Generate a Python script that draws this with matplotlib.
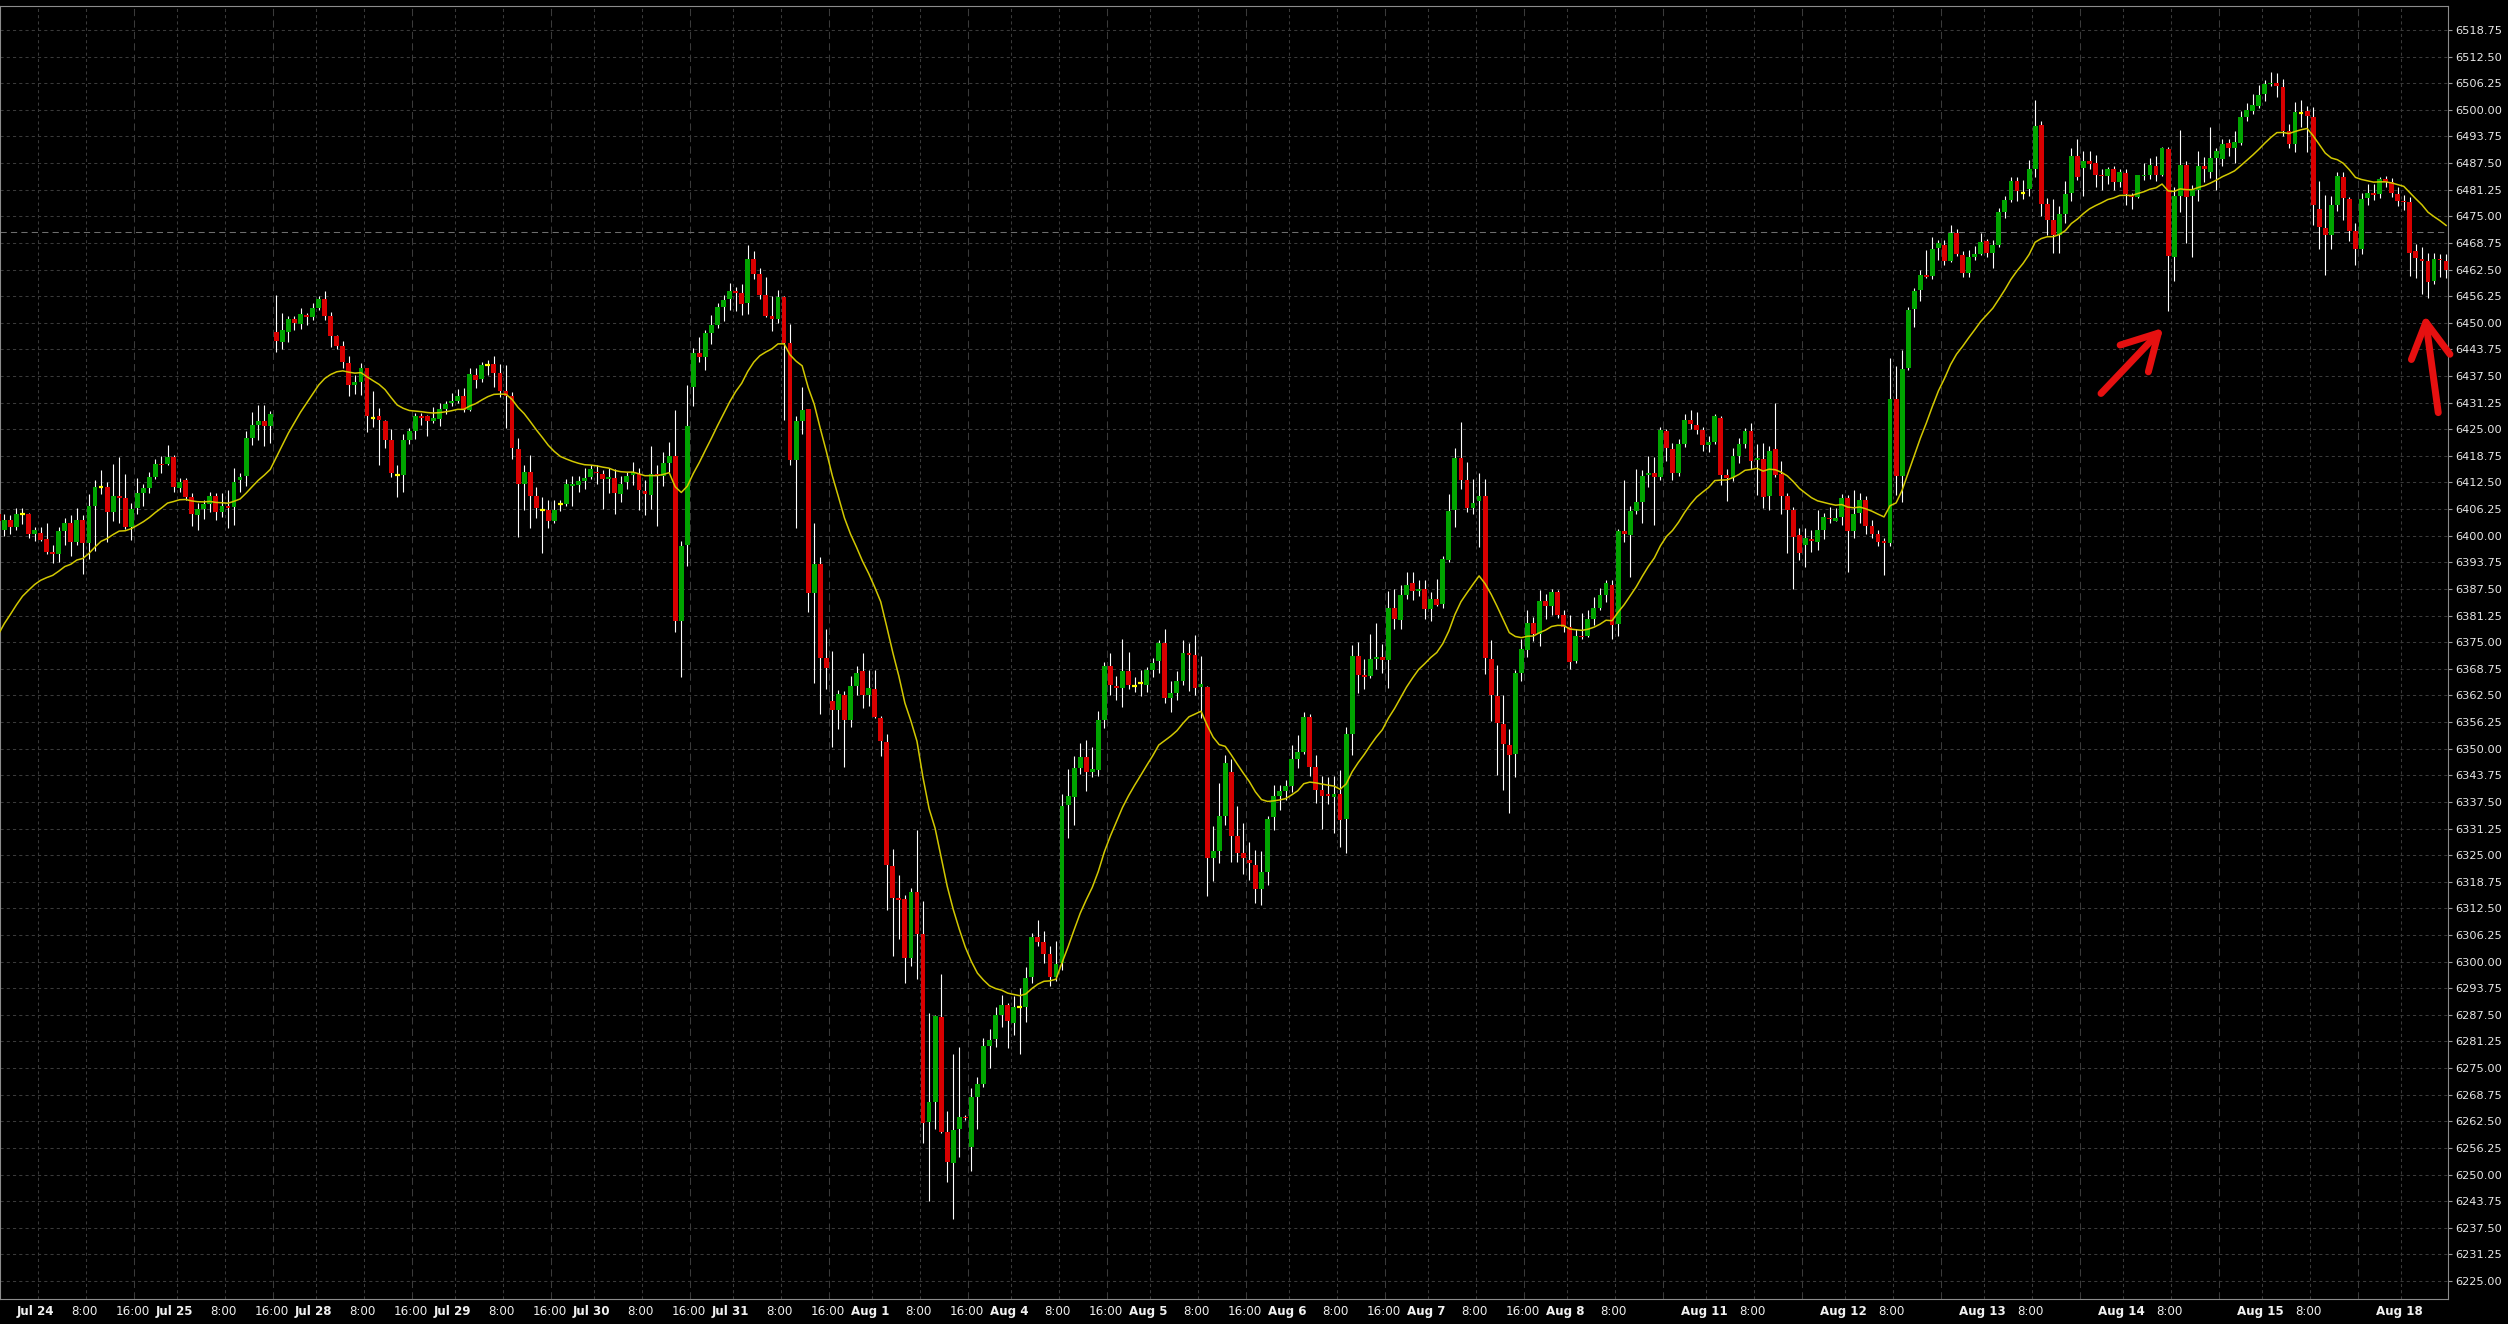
import numpy as np
import matplotlib.pyplot as plt

# hourly ES bars, bar 0 = Jul 23 18:00, last bar = Aug 18 08:00
opens = [
    6405.0, 6401.25, 6403.75, 6402.0, 6405.0, 6405.0, 6400.5, 6400.75, 6399.25, 6396.25,
    6395.75, 6401.0, 6403.0, 6398.5, 6403.75, 6398.25, 6407.0, 6411.5, 6411.5, 6405.5,
    6409.25, 6408.75, 6402.0, 6406.5, 6410.0, 6411.25, 6413.75, 6416.75, 6416.75, 6418.5,
    6411.25, 6413.0, 6409.0, 6404.75, 6406.25, 6407.5, 6409.25, 6405.5, 6407.0, 6406.75,
    6413.0, 6414.0, 6423.0, 6426.0, 6427.0, 6425.75, 6447.75, 6445.5, 6447.75, 6451.0,
    6449.75, 6451.75, 6451.25, 6453.5, 6455.5, 6451.5, 6447.0, 6444.5, 6440.5, 6435.5,
    6436.0, 6439.5, 6427.75, 6428.0, 6427.0, 6422.5, 6414.25, 6414.25, 6422.5, 6424.5,
    6428.0, 6428.0, 6427.0, 6427.5, 6429.75, 6431.25, 6431.75, 6432.75, 6429.5, 6437.75,
    6436.75, 6440.0, 6440.25, 6438.25, 6434.0, 6432.75, 6420.25, 6412.25, 6415.0, 6409.25,
    6406.0, 6406.0, 6403.5, 6407.5, 6407.5, 6411.75, 6412.0, 6412.75, 6413.75, 6415.0,
    6414.5, 6413.25, 6413.5, 6409.75, 6412.5, 6414.25, 6414.5, 6410.5, 6409.5, 6414.5,
    6414.0, 6417.0, 6418.75, 6380.0, 6397.75, 6435.0, 6443.0, 6442.0, 6447.5, 6449.5,
    6453.75, 6455.5, 6457.5, 6457.0, 6454.75, 6465.0, 6461.5, 6456.5, 6451.5, 6451.0,
    6456.0, 6445.25, 6417.75, 6427.0, 6429.75, 6386.5, 6393.25, 6371.25, 6361.25, 6359.0,
    6362.5, 6356.75, 6364.75, 6368.25, 6362.5, 6364.0, 6357.25, 6351.5, 6322.5, 6315.0,
    6314.75, 6300.75, 6316.25, 6306.5, 6262.25, 6267.0, 6287.0, 6260.0, 6252.75, 6260.75,
    6263.5, 6256.5, 6268.25, 6271.25, 6280.25, 6281.75, 6287.5, 6289.75, 6285.5, 6289.25,
    6289.25, 6296.5, 6305.75, 6304.5, 6301.75, 6296.5, 6299.75, 6336.75, 6338.75, 6345.5,
    6348.0, 6344.5, 6345.0, 6356.75, 6369.5, 6364.75, 6364.25, 6368.25, 6364.75, 6365.5,
    6365.0, 6368.5, 6370.5, 6374.75, 6362.0, 6363.0, 6366.0, 6372.5, 6372.0, 6364.5,
    6364.5, 6324.25, 6326.0, 6334.25, 6344.5, 6329.5, 6325.5, 6323.75, 6322.75, 6317.0,
    6321.0, 6334.0, 6339.0, 6340.0, 6341.25, 6347.5, 6349.25, 6357.5, 6345.75, 6340.25,
    6339.25, 6338.75, 6339.25, 6333.5, 6353.5, 6371.75, 6367.25, 6367.0, 6371.0, 6371.5,
    6370.75, 6383.0, 6380.25, 6386.0, 6389.0, 6387.0, 6387.5, 6382.75, 6385.25, 6384.0,
    6394.25, 6406.0, 6418.25, 6413.0, 6406.5, 6408.25, 6409.25, 6371.0, 6362.25, 6355.75,
    6350.75, 6348.75, 6367.75, 6373.25, 6379.5, 6377.0, 6384.75, 6383.5, 6386.75, 6381.5,
    6378.5, 6370.5, 6376.5, 6376.5, 6380.5, 6383.0, 6386.0, 6388.5, 6379.25, 6401.0,
    6400.25, 6405.75, 6408.0, 6414.25, 6414.75, 6413.75, 6424.5, 6420.25, 6414.75, 6421.5,
    6427.25, 6426.0, 6424.75, 6421.25, 6422.0, 6427.75, 6414.25, 6413.5, 6418.75, 6421.5,
    6424.5, 6417.75, 6418.0, 6409.25, 6420.25, 6414.5, 6409.25, 6406.0, 6400.25, 6397.75,
    6399.25, 6398.5, 6401.25, 6404.25, 6403.5, 6404.5, 6408.75, 6401.0, 6405.25, 6408.5,
    6402.25, 6400.5, 6398.75, 6398.25, 6432.0, 6414.0, 6439.5, 6453.25, 6457.75, 6461.25,
    6461.0, 6467.5, 6468.25, 6464.5, 6471.0, 6466.0, 6461.75, 6465.5, 6466.25, 6469.25,
    6466.5, 6468.25, 6476.0, 6478.75, 6483.25, 6480.5, 6481.5, 6486.0, 6496.5, 6478.0,
    6474.25, 6470.5, 6475.5, 6480.5, 6489.25, 6486.25, 6488.0, 6487.5, 6484.75, 6484.5,
    6486.0, 6483.0, 6485.25, 6480.0, 6479.5, 6484.5, 6484.75, 6486.75, 6484.75, 6490.75,
    6465.5, 6479.75, 6487.0, 6479.75, 6481.25, 6486.75, 6485.5, 6488.75, 6488.5, 6492.25,
    6491.0, 6492.25, 6498.25, 6499.75, 6501.0, 6503.75, 6506.0, 6506.25, 6505.25, 6495.0,
    6492.0, 6499.25, 6499.75, 6498.25, 6476.75, 6472.25, 6470.5, 6477.75, 6484.25, 6479.0,
    6471.5, 6467.25, 6479.25, 6480.5, 6480.25, 6483.75, 6483.0, 6480.25, 6478.5, 6478.25,
    6466.75, 6465.0, 6464.5, 6459.75, 6465.0, 6464.5,
]
highs = [
    6407.0, 6405.0, 6404.75, 6406.5, 6406.5, 6405.25, 6402.0, 6402.0, 6403.0, 6397.75,
    6402.0, 6404.25, 6404.75, 6406.5, 6404.75, 6409.75, 6413.0, 6415.5, 6412.5, 6416.75,
    6418.5, 6414.5, 6407.75, 6413.5, 6412.25, 6415.0, 6418.0, 6418.75, 6421.25, 6419.0,
    6413.5, 6413.5, 6410.0, 6407.75, 6408.5, 6410.25, 6410.0, 6410.0, 6410.75, 6416.0,
    6414.75, 6424.5, 6429.0, 6430.75, 6430.75, 6429.25, 6456.5, 6452.25, 6451.5, 6451.5,
    6453.5, 6452.25, 6454.75, 6456.25, 6457.5, 6452.5, 6447.25, 6445.75, 6442.25, 6437.75,
    6440.5, 6439.5, 6434.0, 6430.0, 6427.25, 6425.0, 6416.5, 6424.0, 6425.25, 6428.75,
    6428.75, 6428.25, 6430.25, 6431.25, 6431.75, 6433.5, 6434.5, 6434.75, 6439.5, 6439.5,
    6440.75, 6441.25, 6442.25, 6440.25, 6440.0, 6433.75, 6423.0, 6416.5, 6419.0, 6411.5,
    6409.0, 6408.5, 6408.5, 6408.5, 6413.25, 6414.0, 6414.0, 6416.0, 6416.5, 6416.5,
    6415.5, 6416.0, 6415.75, 6414.0, 6415.0, 6417.25, 6416.0, 6413.0, 6421.0, 6416.5,
    6419.75, 6422.0, 6429.5, 6398.75, 6435.5, 6444.0, 6446.75, 6448.25, 6451.75, 6454.75,
    6456.5, 6459.25, 6458.5, 6459.0, 6468.25, 6466.75, 6462.75, 6460.75, 6456.25, 6457.75,
    6456.25, 6449.75, 6428.0, 6435.0, 6429.75, 6403.0, 6395.0, 6378.0, 6373.0, 6363.75,
    6363.5, 6367.0, 6369.5, 6372.5, 6368.5, 6368.5, 6357.75, 6353.5, 6326.5, 6320.25,
    6315.75, 6317.25, 6331.0, 6314.25, 6288.0, 6287.5, 6297.0, 6265.0, 6278.25, 6280.0,
    6264.0, 6270.25, 6273.0, 6282.0, 6284.25, 6289.25, 6292.25, 6290.25, 6292.0, 6293.75,
    6298.75, 6306.75, 6309.75, 6307.25, 6303.75, 6304.75, 6339.25, 6345.25, 6348.25, 6351.25,
    6352.0, 6350.5, 6358.75, 6370.25, 6372.5, 6367.0, 6375.75, 6372.75, 6366.75, 6368.5,
    6369.25, 6371.25, 6375.5, 6378.0, 6366.0, 6368.25, 6375.5, 6374.75, 6376.75, 6371.75,
    6364.75, 6331.75, 6342.0, 6348.5, 6347.5, 6336.5, 6332.5, 6328.0, 6326.25, 6326.0,
    6334.25, 6341.5, 6341.5, 6342.75, 6350.75, 6353.25, 6358.5, 6358.25, 6348.5, 6343.5,
    6343.25, 6343.5, 6345.0, 6355.0, 6374.25, 6375.0, 6371.0, 6377.0, 6379.5, 6374.5,
    6387.0, 6387.5, 6388.5, 6391.5, 6391.5, 6389.5, 6389.5, 6386.75, 6389.75, 6395.25,
    6409.75, 6420.5, 6426.75, 6417.25, 6413.25, 6414.75, 6413.25, 6375.5, 6369.75, 6362.5,
    6354.5, 6368.5, 6375.75, 6382.5, 6381.0, 6387.25, 6386.25, 6387.5, 6387.25, 6382.5,
    6381.5, 6378.0, 6381.75, 6382.5, 6385.5, 6387.75, 6389.5, 6389.5, 6401.5, 6413.0,
    6407.0, 6415.75, 6415.5, 6418.75, 6418.5, 6425.5, 6425.0, 6421.75, 6422.75, 6428.5,
    6429.5, 6429.0, 6425.5, 6423.5, 6428.5, 6428.0, 6415.75, 6420.5, 6423.0, 6425.25,
    6426.5, 6421.5, 6421.75, 6421.0, 6431.25, 6417.5, 6410.0, 6406.75, 6401.75, 6401.75,
    6401.25, 6406.0, 6405.25, 6406.75, 6406.5, 6409.75, 6409.5, 6410.75, 6410.0, 6409.25,
    6403.75, 6401.25, 6399.5, 6441.75, 6439.75, 6443.5, 6453.75, 6458.25, 6462.5, 6467.0,
    6470.25, 6469.5, 6469.5, 6473.0, 6472.0, 6466.75, 6467.0, 6468.0, 6471.0, 6469.75,
    6469.5, 6477.0, 6479.75, 6484.25, 6484.25, 6483.5, 6488.25, 6502.25, 6497.5, 6479.25,
    6479.0, 6477.5, 6483.25, 6491.0, 6493.25, 6490.25, 6490.25, 6489.5, 6486.0, 6486.5,
    6486.75, 6486.0, 6486.0, 6480.5, 6484.75, 6487.5, 6488.75, 6489.25, 6491.25, 6491.25,
    6482.0, 6495.25, 6488.0, 6482.25, 6490.25, 6489.0, 6496.0, 6491.0, 6493.25, 6493.25,
    6495.0, 6499.75, 6501.5, 6503.75, 6505.75, 6507.0, 6509.0, 6508.75, 6507.25, 6496.75,
    6501.75, 6502.25, 6501.0, 6500.75, 6483.25, 6480.0, 6479.75, 6485.5, 6485.5, 6479.5,
    6473.5, 6480.5, 6482.5, 6482.5, 6484.25, 6484.5, 6484.0, 6482.0, 6480.0, 6479.5,
    6468.5, 6467.75, 6466.5, 6466.5, 6466.25, 6466.25,
]
lows = [
    6401.0, 6400.0, 6400.5, 6401.25, 6402.75, 6399.5, 6398.75, 6398.75, 6395.75, 6393.5,
    6393.75, 6397.75, 6395.25, 6397.75, 6391.0, 6394.5, 6396.5, 6409.75, 6398.5, 6403.5,
    6403.0, 6401.5, 6399.0, 6405.0, 6407.0, 6410.0, 6413.25, 6414.75, 6416.5, 6410.25,
    6410.25, 6408.5, 6402.25, 6401.25, 6404.0, 6405.5, 6403.75, 6404.5, 6401.75, 6402.5,
    6410.25, 6411.75, 6421.25, 6422.5, 6421.0, 6421.75, 6443.25, 6443.75, 6445.5, 6448.25,
    6448.5, 6449.5, 6450.75, 6453.0, 6450.75, 6444.25, 6443.75, 6439.5, 6432.75, 6433.25,
    6433.0, 6424.25, 6425.5, 6416.5, 6420.5, 6413.75, 6409.0, 6410.25, 6421.5, 6422.75,
    6426.0, 6423.5, 6426.5, 6425.75, 6428.5, 6430.5, 6431.25, 6429.0, 6429.25, 6434.75,
    6436.0, 6437.75, 6435.0, 6432.5, 6425.25, 6418.0, 6399.75, 6406.0, 6401.75, 6404.25,
    6396.0, 6401.75, 6403.0, 6405.75, 6407.0, 6407.0, 6410.25, 6411.0, 6413.25, 6412.25,
    6406.25, 6410.0, 6405.0, 6408.0, 6411.0, 6412.0, 6406.0, 6404.75, 6406.25, 6402.25,
    6411.75, 6415.0, 6377.5, 6366.75, 6393.0, 6430.5, 6440.75, 6439.0, 6445.0, 6448.75,
    6450.5, 6453.0, 6452.75, 6451.75, 6452.0, 6460.25, 6455.5, 6451.25, 6448.0, 6450.0,
    6427.25, 6416.5, 6401.75, 6424.0, 6382.0, 6365.5, 6358.25, 6364.0, 6350.5, 6354.5,
    6345.75, 6355.0, 6362.5, 6359.5, 6360.0, 6357.25, 6348.25, 6312.0, 6301.25, 6305.25,
    6295.0, 6299.0, 6296.0, 6257.5, 6243.75, 6260.75, 6259.75, 6248.25, 6239.5, 6254.0,
    6262.75, 6250.75, 6260.75, 6270.5, 6275.0, 6280.0, 6284.75, 6279.75, 6282.75, 6278.25,
    6285.75, 6295.0, 6303.75, 6299.75, 6294.25, 6295.5, 6298.0, 6329.0, 6332.0, 6344.0,
    6340.0, 6343.25, 6343.5, 6354.75, 6362.5, 6361.5, 6359.75, 6364.0, 6363.25, 6362.25,
    6363.25, 6366.75, 6367.75, 6360.75, 6358.5, 6361.5, 6365.0, 6363.5, 6362.5, 6357.25,
    6315.5, 6319.0, 6323.25, 6332.0, 6323.5, 6323.5, 6320.5, 6319.25, 6313.75, 6313.25,
    6318.0, 6331.0, 6335.5, 6338.0, 6339.75, 6345.5, 6348.75, 6343.5, 6337.25, 6331.25,
    6337.0, 6330.25, 6327.0, 6325.5, 6348.5, 6363.0, 6364.0, 6366.5, 6368.75, 6367.75,
    6364.25, 6378.0, 6378.0, 6385.25, 6385.0, 6385.75, 6380.5, 6380.0, 6383.5, 6383.0,
    6393.75, 6402.0, 6411.0, 6405.5, 6405.0, 6397.25, 6367.5, 6356.5, 6343.75, 6340.25,
    6335.0, 6343.25, 6366.0, 6371.5, 6375.25, 6374.0, 6380.5, 6381.5, 6380.75, 6377.5,
    6368.75, 6370.0, 6375.75, 6376.25, 6379.0, 6382.5, 6384.5, 6375.75, 6376.5, 6398.5,
    6390.25, 6405.0, 6403.0, 6411.5, 6402.5, 6413.0, 6417.5, 6413.0, 6414.0, 6420.75,
    6425.0, 6424.0, 6420.0, 6419.75, 6421.5, 6412.0, 6408.25, 6412.75, 6417.0, 6420.5,
    6415.75, 6409.5, 6406.5, 6406.0, 6413.75, 6405.0, 6396.0, 6387.5, 6394.25, 6392.75,
    6396.25, 6396.75, 6399.25, 6403.0, 6403.5, 6402.5, 6391.5, 6399.5, 6403.0, 6400.5,
    6399.5, 6397.5, 6390.75, 6397.5, 6409.5, 6408.0, 6439.0, 6449.0, 6455.0, 6460.5,
    6460.25, 6464.75, 6463.5, 6464.25, 6465.75, 6460.75, 6460.75, 6464.75, 6466.0, 6465.5,
    6462.75, 6467.75, 6474.5, 6478.25, 6478.5, 6479.0, 6479.75, 6484.25, 6475.0, 6470.5,
    6466.5, 6466.5, 6473.5, 6478.5, 6483.5, 6479.75, 6486.0, 6482.0, 6481.25, 6482.5,
    6481.25, 6482.0, 6477.75, 6476.75, 6479.25, 6483.5, 6483.75, 6483.25, 6484.5, 6452.75,
    6459.75, 6476.0, 6468.75, 6465.5, 6478.5, 6483.0, 6484.0, 6481.25, 6486.75, 6489.25,
    6487.5, 6491.75, 6497.5, 6499.0, 6500.5, 6502.0, 6505.5, 6503.0, 6493.75, 6491.0,
    6490.0, 6496.0, 6490.0, 6473.0, 6467.25, 6461.25, 6467.25, 6476.25, 6474.25, 6469.25,
    6463.5, 6466.25, 6477.75, 6478.75, 6479.25, 6482.0, 6479.5, 6477.5, 6476.5, 6461.0,
    6460.5, 6456.75, 6455.75, 6459.0, 6460.75, 6460.5,
]
closes = [
    6403.5, 6403.75, 6402.0, 6405.0, 6405.0, 6400.5, 6401.25, 6399.0, 6396.25, 6395.75,
    6401.0, 6403.0, 6398.5, 6403.75, 6398.25, 6407.0, 6411.5, 6411.5, 6405.5, 6409.25,
    6408.75, 6402.0, 6406.25, 6410.0, 6411.25, 6413.75, 6416.75, 6416.5, 6418.5, 6411.5,
    6412.5, 6409.0, 6405.0, 6406.25, 6407.5, 6409.25, 6405.5, 6407.0, 6406.5, 6412.5,
    6413.75, 6423.0, 6426.0, 6427.0, 6425.75, 6428.5, 6445.75, 6448.25, 6451.0, 6450.0,
    6452.0, 6451.25, 6453.5, 6455.5, 6451.5, 6447.0, 6444.5, 6440.75, 6435.5, 6436.0,
    6439.5, 6428.0, 6427.75, 6427.25, 6422.5, 6414.75, 6414.25, 6422.5, 6424.5, 6428.0,
    6427.75, 6427.0, 6427.75, 6429.75, 6431.0, 6431.75, 6432.75, 6429.5, 6438.0, 6436.5,
    6440.0, 6440.0, 6438.25, 6434.0, 6432.75, 6420.5, 6412.25, 6415.0, 6409.25, 6406.5,
    6406.0, 6403.5, 6406.0, 6407.5, 6412.25, 6412.25, 6412.75, 6413.5, 6415.75, 6414.75,
    6413.25, 6413.75, 6410.0, 6412.25, 6414.0, 6415.0, 6410.75, 6409.75, 6414.5, 6414.0,
    6417.0, 6418.75, 6380.0, 6397.5, 6425.75, 6443.0, 6442.0, 6447.5, 6449.5, 6453.75,
    6455.25, 6457.5, 6457.0, 6454.5, 6465.0, 6461.5, 6456.5, 6451.5, 6451.0, 6456.0,
    6445.25, 6417.75, 6427.0, 6429.5, 6386.5, 6393.25, 6371.25, 6369.0, 6359.0, 6362.75,
    6356.75, 6364.75, 6367.75, 6362.5, 6364.25, 6357.5, 6351.75, 6322.75, 6315.0, 6314.5,
    6300.75, 6316.25, 6306.5, 6262.0, 6267.0, 6287.25, 6260.0, 6253.0, 6260.5, 6263.5,
    6263.25, 6268.25, 6271.25, 6280.25, 6281.5, 6287.5, 6289.75, 6286.0, 6289.25, 6289.25,
    6296.25, 6305.75, 6304.5, 6301.75, 6296.5, 6299.5, 6336.5, 6339.0, 6345.5, 6348.0,
    6344.5, 6345.25, 6356.75, 6369.5, 6365.0, 6364.25, 6368.25, 6365.0, 6364.75, 6365.5,
    6368.5, 6370.0, 6374.75, 6362.0, 6363.0, 6366.0, 6372.5, 6372.0, 6364.25, 6365.25,
    6324.25, 6326.0, 6334.25, 6346.75, 6329.5, 6325.5, 6324.25, 6323.25, 6317.0, 6321.0,
    6333.5, 6339.0, 6340.0, 6341.25, 6347.5, 6349.25, 6357.5, 6345.75, 6340.25, 6339.0,
    6339.0, 6339.25, 6333.25, 6353.5, 6371.75, 6367.25, 6366.75, 6371.0, 6371.5, 6370.75,
    6383.0, 6380.5, 6386.0, 6388.5, 6387.0, 6387.5, 6382.75, 6385.25, 6383.75, 6394.5,
    6405.75, 6418.25, 6413.0, 6406.5, 6407.75, 6409.25, 6371.25, 6362.5, 6356.0, 6351.0,
    6348.5, 6367.75, 6373.5, 6379.5, 6377.0, 6384.75, 6383.5, 6386.75, 6381.5, 6378.5,
    6370.25, 6376.5, 6376.25, 6380.5, 6383.0, 6386.0, 6389.0, 6379.0, 6401.0, 6400.5,
    6405.75, 6408.0, 6414.0, 6414.75, 6413.75, 6424.75, 6420.5, 6414.75, 6421.5, 6427.25,
    6426.25, 6424.75, 6421.25, 6422.0, 6428.0, 6414.25, 6413.5, 6418.75, 6421.5, 6424.5,
    6417.5, 6418.25, 6409.0, 6420.0, 6414.25, 6409.25, 6406.0, 6399.75, 6396.0, 6399.5,
    6398.75, 6401.25, 6404.5, 6404.0, 6404.25, 6408.75, 6401.0, 6405.0, 6408.5, 6402.25,
    6400.5, 6398.5, 6398.25, 6432.0, 6414.0, 6439.25, 6453.0, 6457.5, 6461.25, 6460.75,
    6467.25, 6468.75, 6464.5, 6471.0, 6466.25, 6461.75, 6465.5, 6466.25, 6469.0, 6466.5,
    6468.25, 6476.0, 6478.75, 6483.25, 6481.0, 6480.5, 6486.0, 6496.25, 6478.0, 6474.25,
    6470.5, 6475.5, 6480.25, 6489.25, 6484.25, 6488.0, 6487.25, 6484.75, 6484.5, 6486.0,
    6483.0, 6485.5, 6480.25, 6479.5, 6484.75, 6484.75, 6487.0, 6484.75, 6491.0, 6465.75,
    6479.75, 6487.0, 6479.5, 6481.25, 6486.75, 6486.0, 6488.75, 6490.25, 6492.0, 6491.0,
    6492.5, 6498.25, 6500.0, 6501.25, 6503.5, 6506.0, 6506.25, 6505.5, 6495.0, 6492.0,
    6499.5, 6499.25, 6498.5, 6477.75, 6472.5, 6470.5, 6477.75, 6484.5, 6479.25, 6471.5,
    6467.25, 6479.0, 6480.5, 6480.0, 6483.75, 6483.0, 6480.5, 6478.5, 6478.25, 6466.5,
    6465.25, 6464.5, 6459.5, 6465.0, 6464.75, 6462.5,
]
ema_start = 6374.0   # 20-bar EMA level just before the first bar

day_labels = ['Jul 24', 'Jul 25', 'Jul 28', 'Jul 29', 'Jul 30', 'Jul 31', 'Aug 1', 'Aug 4',
              'Aug 5', 'Aug 6', 'Aug 7', 'Aug 8', 'Aug 11', 'Aug 12', 'Aug 13', 'Aug 14',
              'Aug 15', 'Aug 18']
show_16 = [True] * 11 + [False] * 7
price_line = 6471.25
arrow_tails = [(347.9, 6433.4), (403.7, 6428.9)]
arrow_tips = [(358.2, 6448.8), (401.5, 6451.8)]

W, H, DPI = 2508, 1324, 100
BG = '#000000'
GRID = '#3a3a3a'
UP, DOWN, DOJI = '#00a400', '#d80000', '#ffff00'

fig = plt.figure(figsize=(W / DPI, H / DPI), dpi=DPI, facecolor=BG)
ax = fig.add_axes([0, (H - 1299) / H, 2448 / W, (1299 - 6) / H])
ax.set_facecolor(BG)

o = np.array(opens); hi = np.array(highs); lo = np.array(lows); c = np.array(closes)
x = np.arange(len(c))

# 20-bar exponential moving average
alpha = 2 / 21
ma = []
e = ema_start
for v in closes:
    e += alpha * (v - e)
    ma.append(e)

# grid
yt = np.arange(6225, 6518.76, 6.25)
for v in yt:
    ax.axhline(v, color=GRID, lw=0.75, dashes=(3, 3), zorder=0)

ticks, labels, bold = [], [], []
for d, name in enumerate(day_labels):
    m = 6 + 23 * d
    for k, lab in ((0, name), (8, '8:00'), (16, '16:00')):
        pos = m + k
        if pos > 405:
            continue
        if k == 16:
            ax.axvline(pos + 0.5, color=GRID, lw=0.75, dashes=(7, 4), zorder=0)
        else:
            ax.axvline(pos + 0.5, color=GRID, lw=0.75, dashes=(3, 3), zorder=0)
        if pos > 404 or (k == 16 and not show_16[d]):
            continue
        ticks.append(pos + 0.2)
        labels.append(lab)
        bold.append(k == 0)

ax.axhline(price_line, color='#6e6e6e', lw=0.75, dashes=(6, 4), zorder=0.5)

# candles
ax.vlines(x, lo, hi, color='white', lw=0.8, zorder=2)
up = c > o
dn = c < o
dj = c == o
ax.bar(x[up], (c - o)[up], bottom=o[up], width=0.8, color=UP, lw=0, zorder=3)
ax.bar(x[dn], (o - c)[dn], bottom=c[dn], width=0.8, color=DOWN, lw=0, zorder=3)
ax.hlines(c[dj], x[dj] - 0.4, x[dj] + 0.4, color=DOJI, lw=1.6, zorder=3)

ax.plot(x, ma, color='#d2c800', lw=1.1, zorder=4)

# red arrows
for tail, tip in zip(arrow_tails, arrow_tips):
    ax.annotate('', xy=tip, xytext=tail,
                arrowprops=dict(arrowstyle='->,head_length=1.8,head_width=1.0',
                                mutation_scale=14, color='#e61010', lw=5,
                                capstyle='round', joinstyle='round',
                                shrinkA=0, shrinkB=0),
                zorder=6)

ax.set_xlim((0 + 1.7) / 6.044, (2448 + 1.7) / 6.044)
ax.set_ylim(6225 + (1281 - 1299) / 4.2587, 6225 + (1281 - 6) / 4.2587)

ax.yaxis.tick_right()
ax.set_yticks(yt)
ax.set_yticklabels([f'{v:.2f}' for v in yt])
ax.tick_params(axis='y', colors='#9a9a9a', labelcolor='#e8e8e8', labelsize=8.2,
               length=3, width=0.8, pad=2)
ax.set_xticks(ticks)
ax.set_xticklabels(labels)
ax.tick_params(axis='x', length=0, labelcolor='#f0f0f0', labelsize=8.6, pad=4)
for t, b in zip(ax.get_xticklabels(), bold):
    if b:
        t.set_fontweight('bold')

for s in ax.spines.values():
    s.set_color('#8c8c8c')
    s.set_linewidth(0.8)

fig.savefig('out.png', dpi=DPI, facecolor=BG)
